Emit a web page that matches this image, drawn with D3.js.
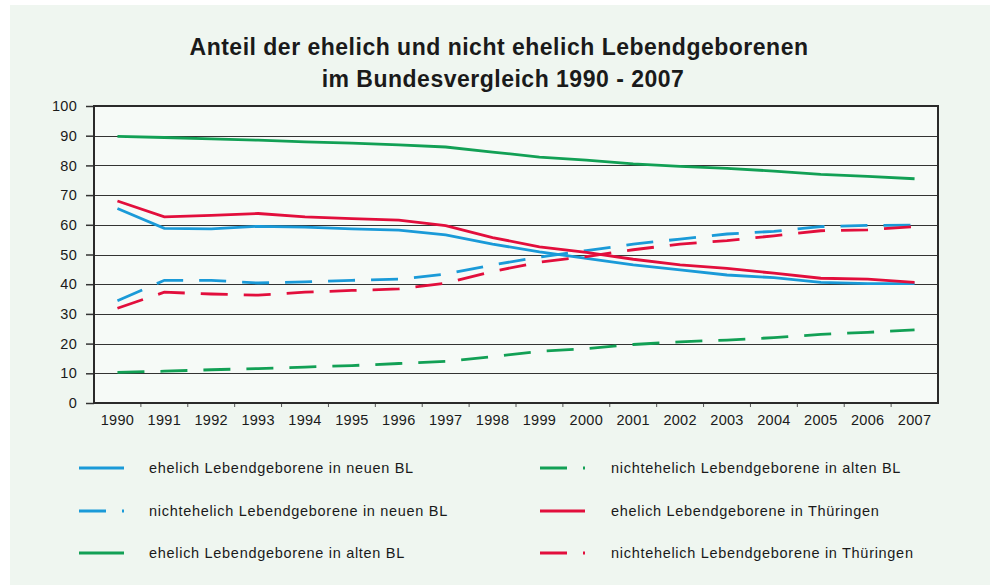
<!DOCTYPE html>
<html>
<head>
<meta charset="utf-8">
<script src="https://cdn.jsdelivr.net/npm/d3@7"></script>
<style>
  html, body { margin: 0; padding: 0; background: #ffffff; }
  svg { display: block; font-family: "Liberation Sans", Arial, sans-serif; }
</style>
</head>
<body>
<div id="chart"></div>
<script>
// Data (percent)
const years = ['1990', '1991', '1992', '1993', '1994', '1995', '1996', '1997', '1998',
  '1999', '2000', '2001', '2002', '2003', '2004', '2005', '2006', '2007'];
const yTicks = [0, 10, 20, 30, 40, 50, 60, 70, 80, 90, 100];

const ehelichNeu = [65.5, 58.8, 58.6, 59.5, 59.2, 58.6, 58.2, 56.6, 53.5, 50.9, 48.7, 46.5, 44.8, 43.1, 42.2, 40.6, 40.2, 40.2];
const nichtehelichNeu = [34.4, 41.3, 41.3, 40.4, 40.8, 41.3, 41.7, 43.4, 46.5, 49.1, 51.3, 53.5, 55.2, 56.9, 57.8, 59.4, 59.8, 59.9];
const ehelichAlt = [89.8, 89.4, 88.9, 88.5, 87.9, 87.5, 86.9, 86.2, 84.5, 82.8, 81.8, 80.5, 79.7, 79.0, 78.1, 77.0, 76.3, 75.5];
const nichtehelichAlt = [10.3, 10.7, 11.2, 11.6, 12.1, 12.6, 13.3, 14.0, 15.6, 17.4, 18.3, 19.7, 20.6, 21.2, 22.0, 23.1, 23.8, 24.6];
const ehelichTh = [68.0, 62.7, 63.2, 63.8, 62.7, 62.1, 61.6, 59.7, 55.7, 52.6, 50.7, 48.4, 46.5, 45.3, 43.7, 42.0, 41.7, 40.6];
const nichtehelichTh = [31.9, 37.3, 36.7, 36.3, 37.3, 37.9, 38.4, 40.3, 44.3, 47.4, 49.3, 51.6, 53.5, 54.7, 56.3, 58.0, 58.3, 59.4];

const series = [
  { name: 'ehelich Lebendgeborene in neuen BL', values: ehelichNeu, color: '#1a9ad8', dashed: false },
  { name: 'nichtehelich Lebendgeborene in neuen BL', values: nichtehelichNeu, color: '#1a9ad8', dashed: true },
  { name: 'ehelich Lebendgeborene in alten BL', values: ehelichAlt, color: '#12a055', dashed: false },
  { name: 'nichtehelich Lebendgeborene in alten BL', values: nichtehelichAlt, color: '#12a055', dashed: true },
  { name: 'ehelich Lebendgeborene in Thüringen', values: ehelichTh, color: '#e20e3c', dashed: false },
  { name: 'nichtehelich Lebendgeborene in Thüringen', values: nichtehelichTh, color: '#e20e3c', dashed: true }
];

const width = 990;
const height = 585;
const plot = { left: 94, top: 106, right: 938, bottom: 403 };
const dash = '27,16';

const svg = d3.select('#chart').append('svg')
  .attr('width', width)
  .attr('height', height);

// panel background
svg.append('rect')
  .attr('x', 10).attr('y', 5)
  .attr('width', width - 10).attr('height', height - 5)
  .attr('fill', '#eff6f0');

// title
const title = svg.append('text')
  .attr('text-anchor', 'middle')
  .attr('font-size', 23)
  .attr('font-weight', 'bold')
  .attr('letter-spacing', 0.5)
  .attr('fill', '#1a1a1a');
title.append('tspan').attr('x', 499).attr('y', 55).text('Anteil der ehelich und nicht ehelich Lebendgeborenen');
title.append('tspan').attr('x', 503).attr('y', 87).text('im Bundesvergleich 1990 - 2007');

// scales
const x = d3.scaleBand()
  .domain(years)
  .range([plot.left, plot.right]);
const y = d3.scaleLinear()
  .domain([0, 100])
  .range([plot.bottom, plot.top]);

// plot background
svg.append('rect')
  .attr('x', plot.left).attr('y', plot.top)
  .attr('width', plot.right - plot.left).attr('height', plot.bottom - plot.top)
  .attr('fill', '#f6faf7');

// grid lines
svg.append('g')
  .selectAll('line')
  .data(yTicks.filter(d => d > 0 && d < 100))
  .enter().append('line')
    .attr('x1', plot.left).attr('x2', plot.right)
    .attr('y1', d => Math.round(y(d)) + 0.5).attr('y2', d => Math.round(y(d)) + 0.5)
    .attr('stroke', '#333')
    .attr('stroke-width', 1);

// y axis
const yAxis = svg.append('g')
  .attr('transform', `translate(${plot.left}, 0)`)
  .call(d3.axisLeft(y).tickValues(yTicks).tickSize(8).tickPadding(9));
yAxis.select('.domain').remove();
yAxis.selectAll('line').attr('stroke', '#333').attr('stroke-width', 1.5);
yAxis.selectAll('text').attr('font-size', 14.5).attr('fill', '#1a1a1a')
  .attr('letter-spacing', 0.3)
  .attr('font-family', '"Liberation Sans", Arial, sans-serif');

// x axis: ticks between categories
const xAxis = svg.append('g')
  .attr('transform', `translate(0, ${plot.bottom})`)
  .call(d3.axisBottom(x).tickSize(0).tickPadding(12));
xAxis.select('.domain').remove();
xAxis.selectAll('text').attr('font-size', 14.5).attr('fill', '#1a1a1a')
  .attr('letter-spacing', 0.3)
  .attr('font-family', '"Liberation Sans", Arial, sans-serif');
svg.append('g')
  .selectAll('line')
  .data(years.slice(1))
  .enter().append('line')
    .attr('x1', d => x(d)).attr('x2', d => x(d))
    .attr('y1', plot.bottom).attr('y2', plot.bottom + 4)
    .attr('stroke', '#555');

// plot frame
svg.append('rect')
  .attr('x', plot.left).attr('y', plot.top)
  .attr('width', plot.right - plot.left).attr('height', plot.bottom - plot.top)
  .attr('fill', 'none')
  .attr('stroke', '#2a2a2a')
  .attr('stroke-width', 2);

// lines
const line = d3.line()
  .x((d, i) => x(years[i]) + x.bandwidth() / 2)
  .y(d => y(d));

svg.append('g')
  .selectAll('path')
  .data(series)
  .enter().append('path')
    .attr('d', d => line(d.values))
    .attr('fill', 'none')
    .attr('stroke', d => d.color)
    .attr('stroke-width', 2.8)
    .attr('stroke-dasharray', d => d.dashed ? dash : null);

// legend (two columns, three rows)
const legendCols = [{ lineX: 79, textX: 149 }, { lineX: 540, textX: 611 }];
const legendRows = [468, 511, 553];
const legend = svg.append('g')
  .selectAll('g')
  .data(series)
  .enter().append('g')
    .attr('transform', (d, i) => `translate(${legendCols[Math.floor(i / 3)].lineX}, ${legendRows[i % 3]})`);
legend.append('line')
  .attr('x1', 0).attr('x2', 45)
  .attr('y1', 0).attr('y2', 0)
  .attr('stroke', d => d.color)
  .attr('stroke-width', 3)
  .attr('stroke-dasharray', d => d.dashed ? dash : null);
legend.append('text')
  .attr('x', (d, i) => legendCols[Math.floor(i / 3)].textX - legendCols[Math.floor(i / 3)].lineX)
  .attr('y', 5)
  .attr('font-size', 14.5)
  .attr('letter-spacing', 0.7)
  .attr('fill', '#1a1a1a')
  .text(d => d.name);
</script>
</body>
</html>
